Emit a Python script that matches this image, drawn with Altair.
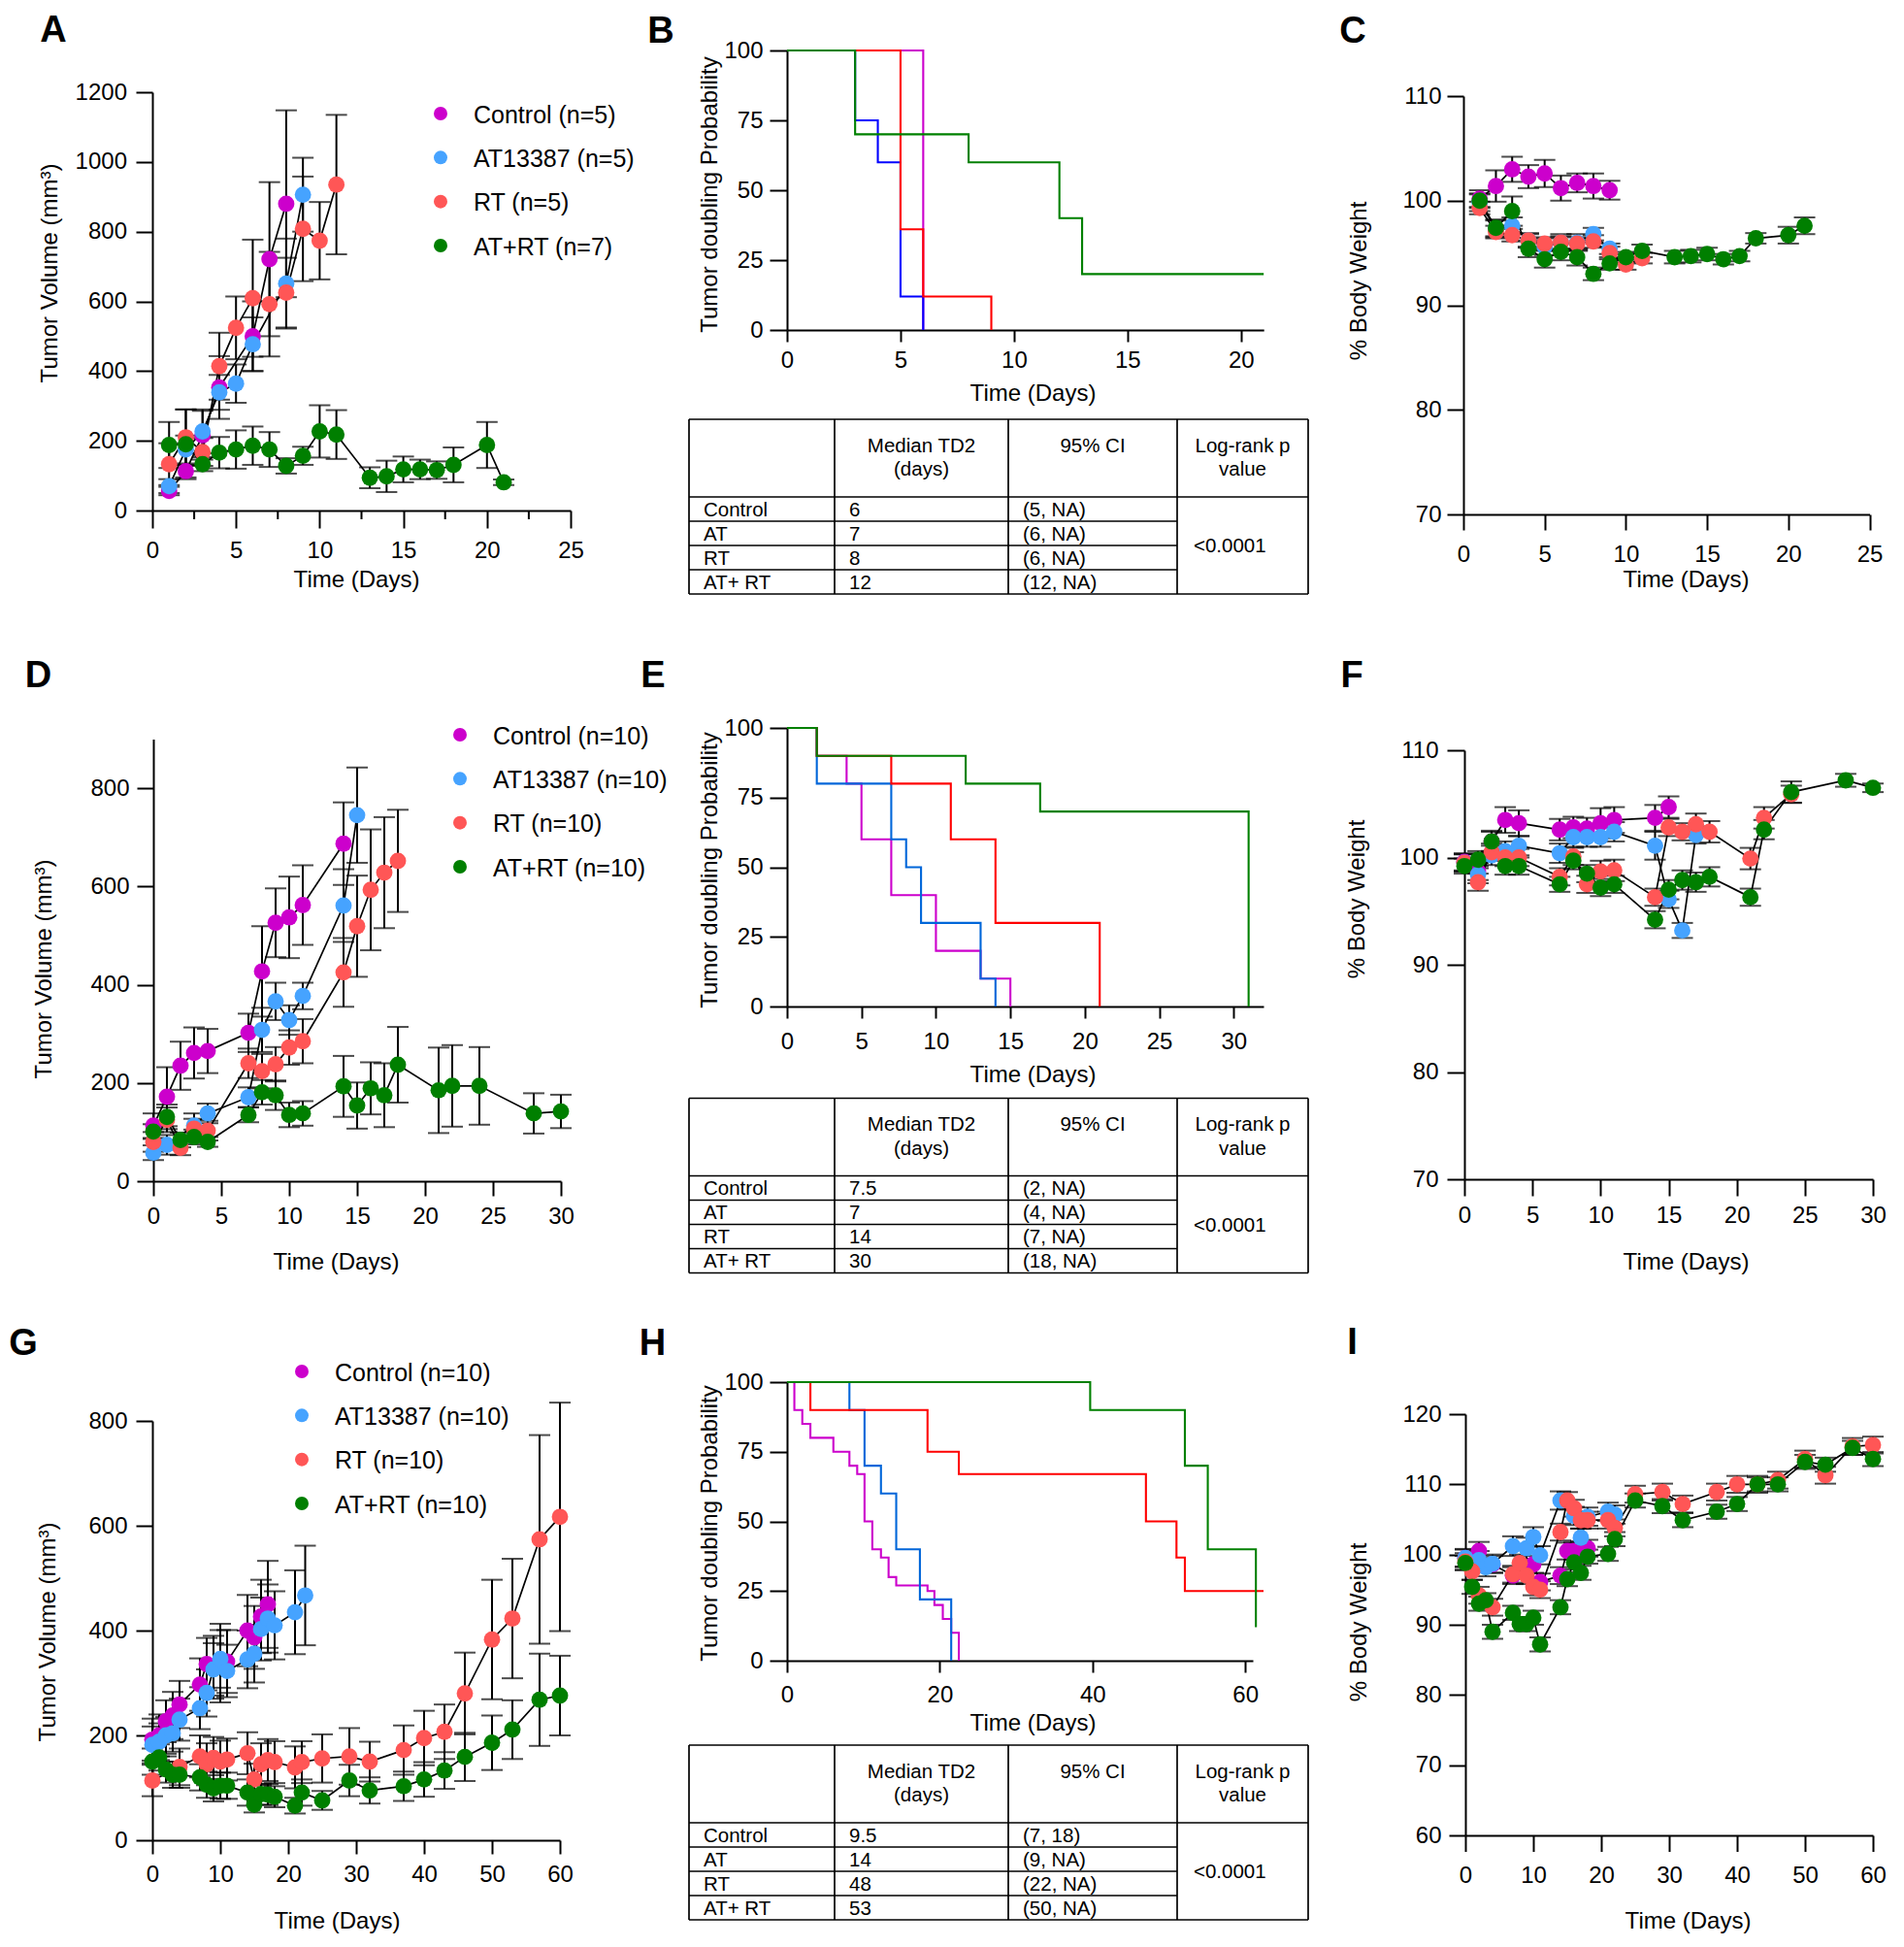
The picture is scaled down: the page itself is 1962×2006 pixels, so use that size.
import altair as alt
import pandas as pd

FONT = "Liberation Sans, Arial, sans-serif"
W, H = 1946, 1990
OX, OY = 8, 8

GROUPS = ["Control", "AT13387", "RT", "AT+RT"]
PT_COLORS = ["#CC00CC", "#46A3FF", "#FF5656", "#007F00"]

# ---------------- Panel A : tumour volume ----------------
A_CTRL_DAY = [1, 2, 3, 4, 6, 7, 8]
A_CTRL_MEAN = [56, 113, 216, 353, 500, 721, 880]
A_CTRL_SEM = [12, 18, 70, 90, 100, 221, 268]
A_AT_DAY = [1, 2, 3, 4, 5, 6, 8, 9]
A_AT_MEAN = [70, 175, 227, 339, 364, 477, 651, 906]
A_AT_SEM = [20, 40, 63, 50, 55, 77, 129, 106]
A_RT_DAY = [1, 2, 3, 4, 5, 6, 7, 8, 9, 10, 11]
A_RT_MEAN = [133, 210, 168, 414, 524, 609, 592, 625, 808, 774, 935]
A_RT_SEM = [60, 80, 40, 96, 90, 168, 150, 100, 150, 111, 200]
A_ATRT_DAY = [1, 2, 3, 4, 5, 6, 7, 8, 9, 10, 11, 13, 14, 15, 16, 17, 18, 20, 21]
A_ATRT_MEAN = [188, 190, 133, 166, 175, 186, 175, 128, 157, 227, 218, 94, 98, 118, 118, 116, 131, 188, 81]
A_ATRT_SEM = [66, 100, 20, 45, 55, 55, 50, 22, 26, 75, 70, 30, 45, 37, 28, 25, 50, 66, 8]
A_MINOR = [2.5, 7.5, 12.5, 17.5, 22.5]
A_LEGEND = ["Control (n=5)", "AT13387 (n=5)", "RT (n=5)", "AT+RT (n=7)"]

# ---------------- Panel B : Kaplan-Meier ----------------
B_CTRL_T, B_CTRL_S = [0, 6], [100, 0]
B_AT_T, B_AT_S = [0, 3, 4, 5, 6], [100, 75, 60, 12, 0]
B_RT_T, B_RT_S = [0, 5, 6, 9], [100, 36, 12, 0]
B_ATRT_T, B_ATRT_S = [0, 3, 8, 12, 13, 21], [100, 70, 60, 40, 20, 20]
B_MEDIAN = ["6", "7", "8", "12"]
B_CI = ["(5, NA)", "(6, NA)", "(6, NA)", "(12, NA)"]

# ---------------- Panel C : body weight ----------------
C_CTRL_DAY = [1, 2, 3, 4, 5, 6, 7, 8, 9]
C_CTRL_MEAN = [100.2, 101.4, 103.0, 102.3, 102.6, 101.2, 101.7, 101.4, 101.0]
C_CTRL_SEM = [0.8, 1.5, 1.2, 1.1, 1.3, 1.2, 0.9, 1.2, 0.9]
C_AT_DAY = [1, 2, 3, 4, 5, 6, 7, 8, 9]
C_AT_MEAN = [99.8, 97.3, 97.6, 96.2, 95.6, 96.0, 96.0, 96.8, 95.4]
C_AT_SEM = [0.8, 0.8, 0.8, 0.7, 0.8, 0.8, 0.8, 0.6, 0.5]
C_RT_DAY = [1, 2, 3, 4, 5, 6, 7, 8, 9, 10, 11]
C_RT_MEAN = [99.3, 97.0, 96.7, 96.2, 95.9, 96.0, 95.9, 96.1, 95.0, 93.9, 94.5]
C_RT_SEM = [0.6, 0.6, 0.6, 0.6, 0.6, 0.6, 0.6, 0.6, 0.6, 0.5, 0.5]
C_ATRT_DAY = [1, 2, 3, 4, 5, 6, 7, 8, 9, 10, 11, 13, 14, 15, 16, 17, 18, 20, 21]
C_ATRT_MEAN = [100.0, 97.4, 99.0, 95.4, 94.4, 95.1, 94.6, 93.0, 94.0, 94.6, 95.2, 94.6, 94.7, 94.9, 94.4, 94.7, 96.4, 96.7, 97.6]
C_ATRT_SEM = [0.7, 0.8, 1.4, 0.8, 0.8, 0.8, 0.8, 0.6, 0.6, 0.5, 0.6, 0.6, 0.6, 0.6, 0.5, 0.5, 0.5, 0.8, 0.8]

# ---------------- Panel D : tumour volume ----------------
D_CTRL_DAY = [0, 1, 2, 3, 4, 7, 8, 9, 10, 11, 14]
D_CTRL_MEAN = [113, 172, 235, 261, 265, 302, 427, 526, 537, 562, 687]
D_CTRL_SEM = [25, 60, 49, 52, 45, 39, 92, 70, 83, 81, 84]
D_AT_DAY = [0, 1, 3, 4, 7, 8, 9, 10, 11, 14, 15]
D_AT_MEAN = [58, 74, 113, 138, 171, 308, 366, 328, 377, 561, 745]
D_AT_SEM = [15, 20, 25, 20, 20, 45, 38, 30, 27, 74, 97]
D_RT_DAY = [0, 1, 2, 3, 4, 7, 8, 9, 10, 11, 14, 15, 16, 17, 18]
D_RT_MEAN = [80, 125, 68, 107, 103, 240, 224, 238, 272, 285, 425, 519, 593, 628, 652]
D_RT_SEM = [20, 25, 15, 20, 20, 30, 35, 35, 35, 45, 70, 103, 123, 113, 104]
D_ATRT_DAY = [0, 1, 2, 3, 4, 7, 8, 9, 10, 11, 14, 15, 16, 17, 18, 21, 22, 24, 28, 30]
D_ATRT_MEAN = [101, 131, 84, 90, 80, 135, 181, 175, 135, 138, 193, 154, 189, 175, 237, 185, 194, 194, 138, 142]
D_ATRT_SEM = [15, 25, 15, 15, 10, 15, 25, 30, 25, 25, 62, 47, 53, 65, 77, 87, 83, 79, 41, 34]
D_LEGEND = ["Control (n=10)", "AT13387 (n=10)", "RT (n=10)", "AT+RT (n=10)"]

# ---------------- Panel E : Kaplan-Meier ----------------
E_CTRL_T, E_CTRL_S = [0, 2, 4, 5, 7, 10, 13, 15], [100, 90, 80, 60, 40, 20, 10, 0]
E_AT_T, E_AT_S = [0, 2, 7, 8, 9, 13, 14], [100, 80, 60, 50, 30, 10, 0]
E_RT_T, E_RT_S = [0, 2, 7, 11, 14, 21], [100, 90, 80, 60, 30, 0]
E_ATRT_T, E_ATRT_S = [0, 2, 12, 17, 31], [100, 90, 80, 70, 0]
E_MEDIAN = ["7.5", "7", "14", "30"]
E_CI = ["(2, NA)", "(4, NA)", "(7, NA)", "(18, NA)"]

# ---------------- Panel F : body weight ----------------
F_CTRL_DAY = [0, 1, 2, 3, 4, 7, 8, 9, 10, 11, 14, 15]
F_CTRL_MEAN = [99.6, 98.7, 101.5, 103.5, 103.2, 102.6, 102.8, 102.7, 103.2, 103.5, 103.7, 104.7]
F_CTRL_SEM = [0.8, 0.8, 1.0, 1.2, 1.2, 1.0, 1.0, 1.0, 1.4, 1.2, 1.2, 1.0]
F_AT_DAY = [0, 1, 2, 3, 4, 7, 8, 9, 10, 11, 14, 15, 16, 17]
F_AT_MEAN = [99.5, 98.4, 100.2, 100.6, 101.1, 100.4, 101.9, 101.9, 101.9, 102.4, 101.1, 96.1, 93.2, 102.1]
F_AT_SEM = [0.8, 0.8, 0.9, 0.9, 0.9, 0.9, 0.9, 0.9, 0.9, 0.9, 1.3, 0.8, 0.7, 0.8]
F_RT_DAY = [0, 1, 2, 3, 4, 7, 8, 9, 10, 11, 14, 15, 16, 17, 18, 21, 22, 24]
F_RT_MEAN = [99.5, 97.7, 100.5, 100.0, 100.0, 98.2, 100.1, 97.5, 98.7, 98.8, 96.3, 102.8, 102.4, 103.1, 102.4, 99.9, 103.7, 105.9]
F_RT_SEM = [0.8, 0.8, 0.8, 0.8, 0.8, 0.8, 0.8, 0.8, 1.0, 1.0, 0.8, 0.8, 0.8, 1.0, 1.0, 1.0, 1.0, 0.8]
F_ATRT_DAY = [0, 1, 2, 3, 4, 7, 8, 9, 10, 11, 14, 15, 16, 17, 18, 21, 22, 24, 28, 30]
F_ATRT_MEAN = [99.2, 99.8, 101.5, 99.2, 99.2, 97.5, 99.7, 98.5, 97.2, 97.5, 94.2, 97.0, 97.9, 97.7, 98.2, 96.3, 102.6, 106.1, 107.2, 106.5]
F_ATRT_SEM = [0.7, 0.8, 0.9, 0.8, 0.8, 0.7, 0.8, 0.8, 0.8, 0.8, 0.8, 0.9, 0.9, 0.9, 0.9, 0.8, 0.9, 1.0, 0.6, 0.4]

# ---------------- Panel G : tumour volume ----------------
G_CTRL_DAY = [0, 1, 2, 3, 4, 7, 8, 9, 10, 11, 14, 15, 16, 17]
G_CTRL_MEAN = [192, 200, 227, 238, 259, 297, 336, 330, 338, 341, 400, 387, 427, 450]
G_CTRL_SEM = [40, 40, 40, 45, 45, 50, 50, 60, 75, 60, 68, 60, 70, 83]
G_AT_DAY = [0, 1, 2, 3, 4, 7, 8, 9, 10, 11, 14, 15, 16, 17, 18, 21, 22.5]
G_AT_MEAN = [182, 188, 200, 204, 230, 252, 281, 326, 346, 323, 345, 356, 403, 423, 410, 435, 467]
G_AT_SEM = [35, 35, 35, 35, 40, 40, 45, 50, 55, 50, 55, 55, 60, 65, 65, 80, 95]
G_RT_DAY = [0, 4, 7, 8, 9, 10, 11, 14, 15, 16, 17, 18, 21, 22, 25, 29, 32, 37, 40, 43, 46, 50, 53, 57, 60]
G_RT_MEAN = [114, 140, 160, 145, 157, 150, 154, 166, 116, 145, 153, 149, 139, 149, 156, 160, 150, 172, 195, 207, 280, 383, 423, 574, 617]
G_RT_SEM = [30, 35, 40, 40, 40, 40, 40, 40, 30, 40, 40, 40, 40, 40, 46, 54, 38, 47, 52, 52, 78, 114, 114, 199, 218]
G_ATRT_DAY = [0, 1, 2, 3, 4, 7, 8, 9, 10, 11, 14, 15, 16, 17, 18, 21, 22, 25, 29, 32, 37, 40, 43, 46, 50, 53, 57, 60]
G_ATRT_MEAN = [150, 158, 135, 125, 125, 120, 106, 99, 104, 104, 91, 68, 88, 87, 83, 66, 91, 76, 114, 95, 103, 116, 133, 159, 186, 211, 268, 276]
G_ATRT_SEM = [25, 25, 25, 25, 25, 25, 25, 25, 25, 25, 25, 15, 20, 20, 20, 15, 25, 18, 30, 25, 28, 33, 35, 46, 52, 56, 88, 76]
G_LEGEND = ["Control (n=10)", "AT13387 (n=10)", "RT (n=10)", "AT+RT (n=10)"]

# ---------------- Panel H : Kaplan-Meier ----------------
H_CTRL_T = [0, 0.96, 2.0, 3.06, 6.07, 8.17, 9.19, 10.15, 11.17, 12.3, 13.3, 14.3, 18.4, 19.3, 20.4, 21.5, 22.5]
H_CTRL_S = [100, 90, 85, 80, 75, 70, 67, 50, 40, 37, 30, 27, 25, 20, 15, 10, 0]
H_AT_T, H_AT_S = [0, 8.17, 10.15, 12.3, 14.3, 17.4, 21.5], [100, 90, 70, 60, 40, 22, 0]
H_RT_T = [0, 3.06, 18.4, 22.5, 47.0, 51.0, 52.1, 62.4]
H_RT_S = [100, 90, 75, 67, 50, 37, 25, 25]
H_ATRT_T, H_ATRT_S = [0, 39.7, 52.1, 55.1, 61.4], [100, 90, 70, 40, 12]
H_MEDIAN = ["9.5", "14", "48", "53"]
H_CI = ["(7, 18)", "(9, NA)", "(22, NA)", "(50, NA)"]

# ---------------- Panel I : body weight ----------------
I_CTRL_DAY = [0, 2, 4, 7, 10, 11, 14, 15, 16, 17, 18]
I_CTRL_MEAN = [99.5, 100.5, 98.6, 97.0, 98.6, 96.1, 97.0, 100.5, 100.5, 100.7, 100.9]
I_CTRL_SEM = [1.2, 1.3, 1.2, 1.2, 1.2, 1.2, 1.2, 1.2, 1.2, 1.2, 1.2]
I_AT_DAY = [0, 2, 3, 4, 7, 9, 10, 11, 14, 16, 17, 18, 21, 22]
I_AT_MEAN = [99.5, 99.2, 98.2, 98.7, 101.2, 100.9, 102.5, 99.9, 107.7, 105.5, 102.4, 105.4, 106.1, 105.7]
I_AT_SEM = [1.3, 1.3, 1.3, 1.3, 1.4, 1.5, 1.4, 1.3, 1.3, 1.3, 1.3, 1.3, 1.3, 1.3]
I_RT_DAY = [0, 1, 2, 4, 7, 8, 9, 10, 11, 14, 15, 16, 17, 18, 21, 22, 25, 29, 32, 37, 40, 43, 46, 50, 53, 57, 60]
I_RT_MEAN = [99.0, 97.6, 94.2, 92.5, 97.2, 98.8, 97.0, 95.4, 95.0, 103.2, 107.7, 106.6, 104.9, 104.9, 104.9, 103.8,
             108.6, 108.9, 107.2, 108.9, 110.0, 110.0, 110.6, 113.6, 111.3, 115.4, 115.6]
I_RT_SEM = [1.2, 1.2, 1.2, 1.2, 1.2, 1.2, 1.2, 1.2, 1.2, 1.2, 1.2, 1.2, 1.2, 1.2, 1.2, 1.2,
            1.2, 1.2, 1.2, 1.2, 1.2, 1.2, 1.2, 1.2, 1.2, 1.2, 1.2]
I_ATRT_DAY = [0, 1, 2, 3, 4, 7, 8, 9, 10, 11, 14, 15, 16, 17, 18, 21, 22, 25, 29, 32, 37, 40, 43, 46, 50, 53, 57, 60]
I_ATRT_MEAN = [98.8, 95.4, 93.0, 93.5, 89.0, 91.7, 90.1, 90.1, 91.0, 87.2, 92.5, 96.5, 98.9, 97.4, 99.7, 100.1,
               102.2, 107.7, 106.9, 104.9, 106.1, 107.2, 110.0, 110.0, 113.2, 112.8, 115.2, 113.6]
I_ATRT_SEM = [1.0, 1.0, 1.0, 1.0, 1.0, 1.0, 1.0, 1.0, 1.0, 1.0, 1.0, 1.0, 1.0, 1.0, 1.0, 1.0,
              1.0, 1.0, 1.0, 1.0, 1.0, 1.0, 1.0, 1.0, 1.0, 1.0, 1.0, 1.0]

# ---------------- Tables ----------------
TBL_ROW_LABELS = ["Control", "AT", "RT", "AT+ RT"]
TBL_HEADERS = [["Median TD2", "(days)"], ["95% CI"], ["Log-rank p", "value"]]
P_VALUE = "<0.0001"

KM_COLORS_B = ["#CC00CC", "#0000FF", "#FF0000", "#008000"]
KM_COLORS_EH = ["#CC00CC", "#0066D9", "#FF0000", "#008000"]

# ---------------- layout (page pixels) ----------------
GEOM = {
    "A": dict(xdom=[0, 25], x0=157, x1=588, ydom=[0, 1200], y0=526, y1=95,
              xvals=[0, 5, 10, 15, 20, 25], yvals=[0, 200, 400, 600, 800, 1000, 1200],
              xtick=18, ytick=17, xpad=23, ypad=9.5, xt=(367, 597), yt=(51, 281),
              ytitle="Tumor Volume (mm³)"),
    "B": dict(xdom=[0, 21], x0=811, x1=1302.2, ydom=[0, 100], y0=340, y1=52,
              xvals=[0, 5, 10, 15, 20], yvals=[0, 25, 50, 75, 100],
              xtick=12, ytick=18, xpad=19, ypad=7, xt=(1064, 405), yt=(731, 200),
              ytitle="Tumor doubling Probability"),
    "C": dict(xdom=[0, 25], x0=1508, x1=1926.5, ydom=[70, 110], y0=530, y1=99,
              xvals=[0, 5, 10, 15, 20, 25], yvals=[70, 80, 90, 100, 110],
              xtick=16, ytick=17, xpad=25, ypad=6, xt=(1737, 597), yt=(1400, 289),
              ytitle="% Body Weight"),
    "D": dict(xdom=[0, 30], x0=158, x1=578, ydom=[0, 900], y0=1217, y1=761.4,
              xvals=[0, 5, 10, 15, 20, 25, 30], yvals=[0, 200, 400, 600, 800],
              xtick=15, ytick=17, xpad=21, ypad=8, xt=(346, 1300), yt=(45, 998),
              ytitle="Tumor Volume (mm³)"),
    "E": dict(xdom=[0, 32], x0=811, x1=1302, ydom=[0, 100], y0=1037, y1=750,
              xvals=[0, 5, 10, 15, 20, 25, 30], yvals=[0, 25, 50, 75, 100],
              xtick=12, ytick=18, xpad=24, ypad=7, xt=(1064, 1107), yt=(731, 896),
              ytitle="Tumor doubling Probability"),
    "F": dict(xdom=[0, 30], x0=1509, x1=1930, ydom=[70, 110], y0=1215, y1=773,
              xvals=[0, 5, 10, 15, 20, 25, 30], yvals=[70, 80, 90, 100, 110],
              xtick=17, ytick=18, xpad=20, ypad=9, xt=(1737, 1300), yt=(1398, 926),
              ytitle="% Body Weight"),
    "G": dict(xdom=[0, 60], x0=157, x1=577, ydom=[0, 800], y0=1896, y1=1464,
              xvals=[0, 10, 20, 30, 40, 50, 60], yvals=[0, 200, 400, 600, 800],
              xtick=14, ytick=17, xpad=21, ypad=9, xt=(347, 1979), yt=(49, 1681),
              ytitle="Tumor Volume (mm³)"),
    "H": dict(xdom=[0, 61], x0=811, x1=1291, ydom=[0, 100], y0=1711, y1=1424,
              xvals=[0, 20, 40, 60], yvals=[0, 25, 50, 75, 100],
              xtick=12, ytick=18, xpad=23, ypad=7, xt=(1064, 1775), yt=(731, 1569),
              ytitle="Tumor doubling Probability"),
    "I": dict(xdom=[0, 60], x0=1510, x1=1930, ydom=[60, 120], y0=1891, y1=1457,
              xvals=[0, 10, 20, 30, 40, 50, 60], yvals=[60, 70, 80, 90, 100, 110, 120],
              xtick=16.5, ytick=17, xpad=25, ypad=8, xt=(1739, 1979), yt=(1400, 1671),
              ytitle="% Body Weight"),
}
LEGEND_POS = {"A": (454, 488, 117, 253), "D": (474, 508, 757, 893), "G": (311, 345, 1413, 1549)}
TABLE_LEFT = 710
TABLE_COL_EDGES = [0, 150, 329, 503, 638]
TABLE_ROW_EDGES = [0, 80, 105, 130, 155, 180]
TABLE_TOPS = {"B": 432, "E": 1131.5, "H": 1798}
LETTERS = [("A", 55, 30), ("B", 681, 30.5), ("C", 1394, 30.5), ("D", 39.5, 694.5), ("E", 673, 695),
           ("F", 1393, 695), ("G", 24, 1383), ("H", 672.5, 1383), ("I", 1393.5, 1382)]

POINT_SIZE = 285
LEGEND_DOT_SIZE = 195


def scales(g):
    xs = alt.Scale(domain=g["xdom"], range=[g["x0"] - OX, g["x1"] - OX], nice=False, zero=False)
    ys = alt.Scale(domain=g["ydom"], range=[g["y0"] - OY, g["y1"] - OY], nice=False, zero=False)
    return xs, ys


def axes(g):
    xa = alt.Axis(orient="bottom", offset=(g["y0"] - OY) - H, values=g["xvals"], tickSize=g["xtick"],
                  labelPadding=g["xpad"], labelBaseline="middle", title="Time (Days)", format="d",
                  titleX=g["xt"][0] - OX, titleY=g["xt"][1] - g["y0"], titleAngle=0,
                  titleAlign="center", titleBaseline="middle")
    ya = alt.Axis(orient="left", offset=-(g["x0"] - OX), values=g["yvals"], tickSize=g["ytick"],
                  labelPadding=g["ypad"], title=g["ytitle"], format="d",
                  titleX=g["yt"][0] - g["x0"], titleY=g["yt"][1] - OY, titleAngle=270,
                  titleAlign="center", titleBaseline="middle")
    return xa, ya


def series_panel(series, g, minor=None):
    rows = []
    for gi, (days, means, sems) in enumerate(series):
        for d, m, s in zip(days, means, sems):
            rows.append({"group": GROUPS[gi], "day": d, "mean": m, "lo": m - s, "hi": m + s,
                         "color": PT_COLORS[gi]})
    df = pd.DataFrame(rows)
    xs, ys = scales(g)
    xa, ya = axes(g)
    X = alt.X("day:Q", scale=xs, axis=xa)
    base = alt.Chart(df)
    err = base.mark_rule(color="black", strokeWidth=2).encode(
        x=X, y=alt.Y("lo:Q", scale=ys, axis=ya), y2=alt.Y2("hi:Q"))
    cap_hi = base.mark_tick(color="black", orient="horizontal", size=22, thickness=2).encode(
        x=X, y=alt.Y("hi:Q", scale=ys, axis=ya))
    cap_lo = base.mark_tick(color="black", orient="horizontal", size=22, thickness=2).encode(
        x=X, y=alt.Y("lo:Q", scale=ys, axis=ya))
    line = base.mark_line(color="black", strokeWidth=1.7).encode(
        x=X, y=alt.Y("mean:Q", scale=ys, axis=ya), detail="group:N")
    pts = base.mark_circle(size=POINT_SIZE, opacity=1).encode(
        x=X, y=alt.Y("mean:Q", scale=ys, axis=ya), color=alt.Color("color:N", scale=None))
    layers = [err, cap_hi, cap_lo, line, pts]
    if minor:
        mdf = pd.DataFrame({"tick": minor})
        layers.append(alt.Chart(mdf).mark_rule(color="black", strokeWidth=2).encode(
            x=alt.X("tick:Q", scale=xs, axis=xa),
            y=alt.value(g["y0"] - OY), y2=alt.value(g["y0"] - OY + 9)))
    return alt.layer(*layers)


def km_panel(curves, colors, g):
    xs, ys = scales(g)
    xa, ya = axes(g)
    layers = []
    for (t, s), c in zip(curves, colors):
        df = pd.DataFrame({"t": t, "s": s})
        layers.append(alt.Chart(df).mark_line(interpolate="step-after", color=c, strokeWidth=2.1).encode(
            x=alt.X("t:Q", scale=xs, axis=xa), y=alt.Y("s:Q", scale=ys, axis=ya)))
    return alt.layer(*layers)


def legend(labels, pos):
    mx, tx, y_first, y_last = pos
    df = pd.DataFrame({"label": labels, "color": PT_COLORS})
    ys = alt.Scale(type="point", domain=labels, range=[y_first - OY, y_last - OY], padding=0)
    Y = alt.Y("label:N", scale=ys, axis=None)
    dots = alt.Chart(df).mark_circle(size=LEGEND_DOT_SIZE, opacity=1).encode(
        x=alt.value(mx - OX), y=Y, color=alt.Color("color:N", scale=None))
    txt = alt.Chart(df).mark_text(align="left", baseline="middle", fontSize=25, font=FONT,
                                  color="black", dy=1.5).encode(x=alt.value(tx - OX), y=Y, text="label:N")
    return alt.layer(dots, txt)


def table(top, medians, cis):
    c, r = TABLE_COL_EDGES, TABLE_ROW_EDGES
    xs = alt.Scale(domain=[0, c[-1]], range=[TABLE_LEFT - OX, TABLE_LEFT + c[-1] - OX], nice=False, zero=False)
    ys = alt.Scale(domain=[0, r[-1]], range=[top - OY, top + r[-1] - OY], nice=False, zero=False)
    X = lambda f: alt.X(f, type="quantitative", scale=xs, axis=None)
    Y = lambda f: alt.Y(f, type="quantitative", scale=ys, axis=None)
    lines = []
    for yy in [r[0], r[1], r[-1]]:
        lines.append({"x": c[0], "x2": c[-1], "y": yy, "y2": yy})
    for yy in r[2:-1]:
        lines.append({"x": c[0], "x2": c[3], "y": yy, "y2": yy})
    for xx in c:
        lines.append({"x": xx, "x2": xx, "y": r[0], "y2": r[-1]})
    rules = alt.Chart(pd.DataFrame(lines)).mark_rule(color="black", strokeWidth=1.7).encode(
        x=X("x"), x2="x2:Q", y=Y("y"), y2="y2:Q")
    left = []
    for i in range(4):
        yc = (r[i + 1] + r[i + 2]) / 2 + 1
        left.append({"x": c[0] + 15, "y": yc, "t": TBL_ROW_LABELS[i]})
        left.append({"x": c[1] + 15, "y": yc, "t": medians[i]})
        left.append({"x": c[2] + 15, "y": yc, "t": cis[i]})
    left.append({"x": c[3] + 17, "y": (r[1] + r[-1]) / 2 + 1, "t": P_VALUE})
    center = []
    for k, hdr in enumerate(TBL_HEADERS):
        xc = (c[k + 1] + c[k + 2]) / 2
        for j, line in enumerate(hdr):
            center.append({"x": xc, "y": 27.5 + 24.5 * j, "t": line})
    tl = alt.Chart(pd.DataFrame(left)).mark_text(align="left", baseline="middle", fontSize=20.5,
                                                 font=FONT, color="black").encode(
        x=X("x"), y=Y("y"), text="t:N")
    tc = alt.Chart(pd.DataFrame(center)).mark_text(align="center", baseline="middle", fontSize=20.5,
                                                   font=FONT, color="black").encode(
        x=X("x"), y=Y("y"), text="t:N")
    return alt.layer(rules, tl, tc)


panel_A = series_panel([(A_CTRL_DAY, A_CTRL_MEAN, A_CTRL_SEM), (A_AT_DAY, A_AT_MEAN, A_AT_SEM),
                        (A_RT_DAY, A_RT_MEAN, A_RT_SEM), (A_ATRT_DAY, A_ATRT_MEAN, A_ATRT_SEM)],
                       GEOM["A"], minor=A_MINOR)
panel_C = series_panel([(C_CTRL_DAY, C_CTRL_MEAN, C_CTRL_SEM), (C_AT_DAY, C_AT_MEAN, C_AT_SEM),
                        (C_RT_DAY, C_RT_MEAN, C_RT_SEM), (C_ATRT_DAY, C_ATRT_MEAN, C_ATRT_SEM)], GEOM["C"])
panel_D = series_panel([(D_CTRL_DAY, D_CTRL_MEAN, D_CTRL_SEM), (D_AT_DAY, D_AT_MEAN, D_AT_SEM),
                        (D_RT_DAY, D_RT_MEAN, D_RT_SEM), (D_ATRT_DAY, D_ATRT_MEAN, D_ATRT_SEM)], GEOM["D"])
panel_F = series_panel([(F_CTRL_DAY, F_CTRL_MEAN, F_CTRL_SEM), (F_AT_DAY, F_AT_MEAN, F_AT_SEM),
                        (F_RT_DAY, F_RT_MEAN, F_RT_SEM), (F_ATRT_DAY, F_ATRT_MEAN, F_ATRT_SEM)], GEOM["F"])
panel_G = series_panel([(G_CTRL_DAY, G_CTRL_MEAN, G_CTRL_SEM), (G_AT_DAY, G_AT_MEAN, G_AT_SEM),
                        (G_RT_DAY, G_RT_MEAN, G_RT_SEM), (G_ATRT_DAY, G_ATRT_MEAN, G_ATRT_SEM)], GEOM["G"])
panel_I = series_panel([(I_CTRL_DAY, I_CTRL_MEAN, I_CTRL_SEM), (I_AT_DAY, I_AT_MEAN, I_AT_SEM),
                        (I_RT_DAY, I_RT_MEAN, I_RT_SEM), (I_ATRT_DAY, I_ATRT_MEAN, I_ATRT_SEM)], GEOM["I"])

panel_B = km_panel([(B_CTRL_T, B_CTRL_S), (B_AT_T, B_AT_S), (B_RT_T, B_RT_S), (B_ATRT_T, B_ATRT_S)],
                   KM_COLORS_B, GEOM["B"])
panel_E = km_panel([(E_CTRL_T, E_CTRL_S), (E_AT_T, E_AT_S), (E_RT_T, E_RT_S), (E_ATRT_T, E_ATRT_S)],
                   KM_COLORS_EH, GEOM["E"])
panel_H = km_panel([(H_CTRL_T, H_CTRL_S), (H_AT_T, H_AT_S), (H_RT_T, H_RT_S), (H_ATRT_T, H_ATRT_S)],
                   KM_COLORS_EH, GEOM["H"])

tables = [table(TABLE_TOPS["B"], B_MEDIAN, B_CI), table(TABLE_TOPS["E"], E_MEDIAN, E_CI),
          table(TABLE_TOPS["H"], H_MEDIAN, H_CI)]
legends = [legend(A_LEGEND, LEGEND_POS["A"]), legend(D_LEGEND, LEGEND_POS["D"]),
           legend(G_LEGEND, LEGEND_POS["G"])]
letters = [alt.Chart(pd.DataFrame({"t": [L]})).mark_text(
    fontSize=38, fontWeight="bold", align="center", baseline="middle", font=FONT, color="black").encode(
    x=alt.value(x - OX), y=alt.value(y - OY + 2), text="t:N") for L, x, y in LETTERS]

chart = alt.layer(
    panel_A, panel_B, panel_C, panel_D, panel_E, panel_F, panel_G, panel_H, panel_I,
    *tables, *legends, *letters
).resolve_scale(x="independent", y="independent").resolve_axis(
    x="independent", y="independent"
).properties(
    width=W, height=H, padding=0, autosize=alt.AutoSizeParams(type="none"), background="white"
).configure_view(stroke=None).configure_axis(
    grid=False, domainColor="black", domainWidth=2, tickColor="black", tickWidth=2,
    labelColor="black", titleColor="black", labelFont=FONT, titleFont=FONT,
    labelFontSize=24, titleFontSize=24, titleFontWeight="normal",
    labelFlush=False, labelOverlap=False
)

chart.save("out.html", embed_options={"renderer": "svg", "actions": False})
